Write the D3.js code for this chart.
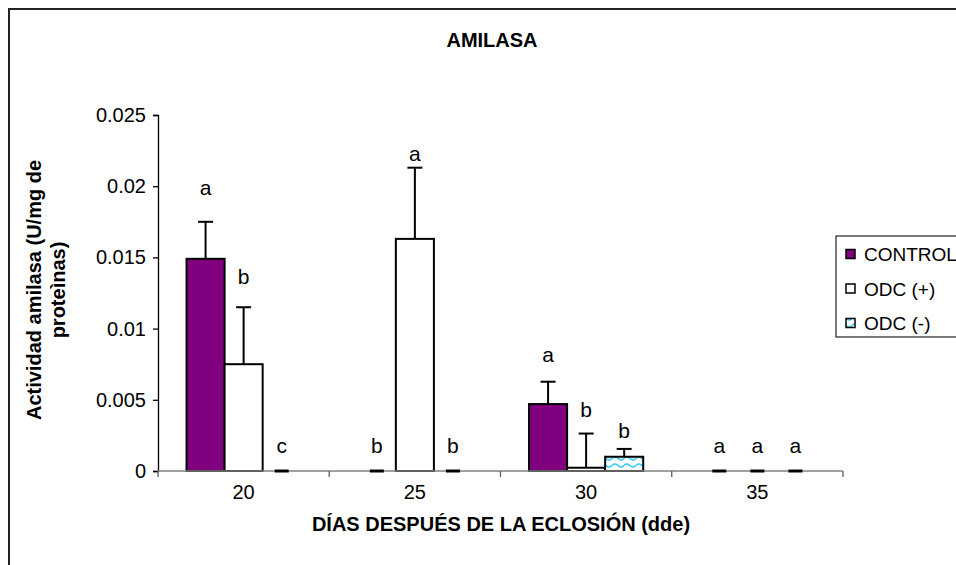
<!DOCTYPE html>
<html>
<head>
<meta charset="utf-8">
<script src="https://cdn.jsdelivr.net/npm/d3@7/dist/d3.min.js"></script>
<style>
body { margin: 0; background: #fff; }
svg text { font-family: Arial, "Liberation Sans", sans-serif; fill: #000; }
</style>
</head>
<body>
<script>
var width = 956
var height = 565

// values
var days = ["20", "25", "30", "35"]
var series = ["CONTROL", "ODC (+)", "ODC (-)"]
var control = [0.0149, 0, 0.0047, 0]
var odcPlus = [0.0075, 0.0163, 0.00023, 0]
var odcMinus = [0, 0, 0.001, 0]
var controlErr = [0.0026, 0, 0.00157, 0]
var odcPlusErr = [0.0040, 0.0050, 0.0024, 0]
var odcMinusErr = [0, 0, 0.00055, 0]
var controlLetters = ["a", "b", "a", "a"]
var odcPlusLetters = ["b", "a", "b", "a"]
var odcMinusLetters = ["c", "b", "b", "a"]
// height (in data units) where each letter sits
var controlLetterAt = [0.0194, 0.00126, 0.00765, 0.00126]
var odcPlusLetterAt = [0.0131, 0.0218, 0.0038, 0.00126]
var odcMinusLetterAt = [0.00126, 0.00126, 0.0023, 0.00126]
var yTicks = [0, 0.005, 0.01, 0.015, 0.02, 0.025]

var values = [control, odcPlus, odcMinus]
var errs = [controlErr, odcPlusErr, odcMinusErr]
var letters = [controlLetters, odcPlusLetters, odcMinusLetters]
var letterAt = [controlLetterAt, odcPlusLetterAt, odcMinusLetterAt]
var fills = ["#800080", "#ffffff", "url(#wave)"]

var rows = []
days.forEach(function(d, i) {
    series.forEach(function(s, j) {
        rows.push({day: d, s: s, j: j, v: values[j][i], e: errs[j][i], l: letters[j][i], la: letterAt[j][i]})
    })
})

var x0 = d3.scaleBand().domain(days).range([158, 843])
var x1 = d3.scaleBand().domain(series).range([0, x0.bandwidth()]).paddingOuter(0.75)
var y = d3.scaleLinear().domain([0, 0.025]).range([471, 115])

function cx(d) { return x0(d.day) + x1(d.s) + x1.bandwidth() / 2 }

var svg = d3.select("body").append("svg")
.attr("width", width)
.attr("height", height)

var defs = svg.append("defs")
var pat = defs.append("pattern")
.attr("id", "wave")
.attr("patternUnits", "userSpaceOnUse")
.attr("width", 12).attr("height", 7)
pat.append("rect").attr("width", 12).attr("height", 7).attr("fill", "#fff")
pat.append("path")
.attr("d", "M0,3.5 Q3,0.5 6,3.5 T12,3.5")
.attr("fill", "none").attr("stroke", "#22ccff").attr("stroke-width", 1.6)

// outer chart border
svg.append("rect")
.attr("x", 9).attr("y", 9)
.attr("width", 1000).attr("height", 600)
.attr("fill", "none").attr("stroke", "#222").attr("stroke-width", 2)

// title
svg.append("text")
.attr("x", 492).attr("y", 47)
.attr("text-anchor", "middle")
.style("font-size", "20px").style("font-weight", "bold")
.text("AMILASA")

// y axis
var yAxis = svg.append("g")
.attr("transform", "translate(158,0)")
.call(d3.axisLeft(y).tickValues(yTicks).tickSize(5).tickPadding(7)
    .tickFormat(function(d) { return String(+d.toFixed(3)) }))
yAxis.select(".domain").attr("stroke", "#000").attr("stroke-width", 1.3)
yAxis.selectAll(".tick line").attr("stroke", "#000").attr("stroke-width", 1.3)
yAxis.selectAll("text").style("font-size", "20px").attr("font-family", null)

// bars
var g = svg.append("g")
g.selectAll("rect.bar")
.data(rows.filter(function(d) { return d.v > 0 }))
.enter().append("rect")
.attr("class", "bar")
.attr("x", function(d) { return x0(d.day) + x1(d.s) })
.attr("width", x1.bandwidth())
.attr("y", function(d) { return y(d.v) })
.attr("height", function(d) { return y(0) - y(d.v) })
.attr("fill", function(d) { return fills[d.j] })
.attr("stroke", "#000").attr("stroke-width", 2)

// x axis line (grey) and tick marks at category edges
svg.append("line")
.attr("x1", x0.range()[0]).attr("x2", x0.range()[1])
.attr("y1", y(0)).attr("y2", y(0))
.attr("stroke", "#808080").attr("stroke-width", 1.5)
var edges = days.map(function(d) { return x0(d) }).concat([x0.range()[1]])
svg.selectAll("line.xtick")
.data(edges)
.enter().append("line")
.attr("class", "xtick")
.attr("x1", function(d) { return d }).attr("x2", function(d) { return d })
.attr("y1", y(0)).attr("y2", y(0) + 6)
.attr("stroke", "#606060").attr("stroke-width", 1.3)

var fg = svg.append("g")

// zero-height bars show as short dark dashes on the baseline
fg.selectAll("line.zero")
.data(rows.filter(function(d) { return d.v == 0 }))
.enter().append("line")
.attr("class", "zero")
.attr("x1", function(d) { return cx(d) - 7 })
.attr("x2", function(d) { return cx(d) + 7 })
.attr("y1", y(0)).attr("y2", y(0))
.attr("stroke", "#000").attr("stroke-width", 3)

// error bars (upper only)
var eb = fg.selectAll("g.err")
.data(rows.filter(function(d) { return d.e > 0 }))
.enter().append("g").attr("class", "err")
eb.append("line")
.attr("x1", cx).attr("x2", cx)
.attr("y1", function(d) { return y(d.v) })
.attr("y2", function(d) { return y(d.v + d.e) })
.attr("stroke", "#000").attr("stroke-width", 2)
eb.append("line")
.attr("x1", function(d) { return cx(d) - 7.5 })
.attr("x2", function(d) { return cx(d) + 7.5 })
.attr("y1", function(d) { return y(d.v + d.e) })
.attr("y2", function(d) { return y(d.v + d.e) })
.attr("stroke", "#000").attr("stroke-width", 2)

// significance letters
fg.selectAll("text.letter")
.data(rows)
.enter().append("text")
.attr("class", "letter")
.attr("x", cx)
.attr("y", function(d) { return y(d.la) })
.attr("text-anchor", "middle")
.style("font-size", "21px")
.text(function(d) { return d.l })

// x category labels
var xAxis = svg.append("g")
.attr("transform", "translate(0," + y(0) + ")")
.call(d3.axisBottom(x0).tickSize(0).tickPadding(14))
xAxis.select(".domain").remove()
xAxis.selectAll("text").style("font-size", "20px").attr("font-family", null)

// axis titles
svg.append("text")
.attr("x", 501).attr("y", 531)
.attr("text-anchor", "middle")
.style("font-size", "20px").style("font-weight", "bold")
.text("DÍAS DESPUÉS DE LA ECLOSIÓN (dde)")

var yTitle = svg.append("text")
.attr("transform", "translate(0,290) rotate(-90)")
.attr("text-anchor", "middle")
.style("font-size", "20px").style("font-weight", "bold")
yTitle.append("tspan").attr("x", 0).attr("y", 41).text("Actividad amilasa (U/mg de")
yTitle.append("tspan").attr("x", 0).attr("y", 65).text("proteìnas)")

// legend
var ly = d3.scalePoint().domain(series).range([254, 323])
svg.append("rect")
.attr("x", 836).attr("y", 236)
.attr("width", 150).attr("height", 101)
.attr("fill", "#fff").attr("stroke", "#333").attr("stroke-width", 1.3)
var lg = svg.selectAll("g.leg")
.data(series)
.enter().append("g").attr("class", "leg")
lg.append("rect")
.attr("x", 846).attr("y", function(d) { return ly(d) - 4.5 })
.attr("width", 9).attr("height", 9)
.attr("fill", function(d, i) { return fills[i] })
.attr("stroke", "#000").attr("stroke-width", 1.5)
lg.append("text")
.attr("x", 864).attr("y", function(d) { return ly(d) + 7 })
.style("font-size", "19px")
.text(function(d) { return d })
</script>
</body>
</html>
